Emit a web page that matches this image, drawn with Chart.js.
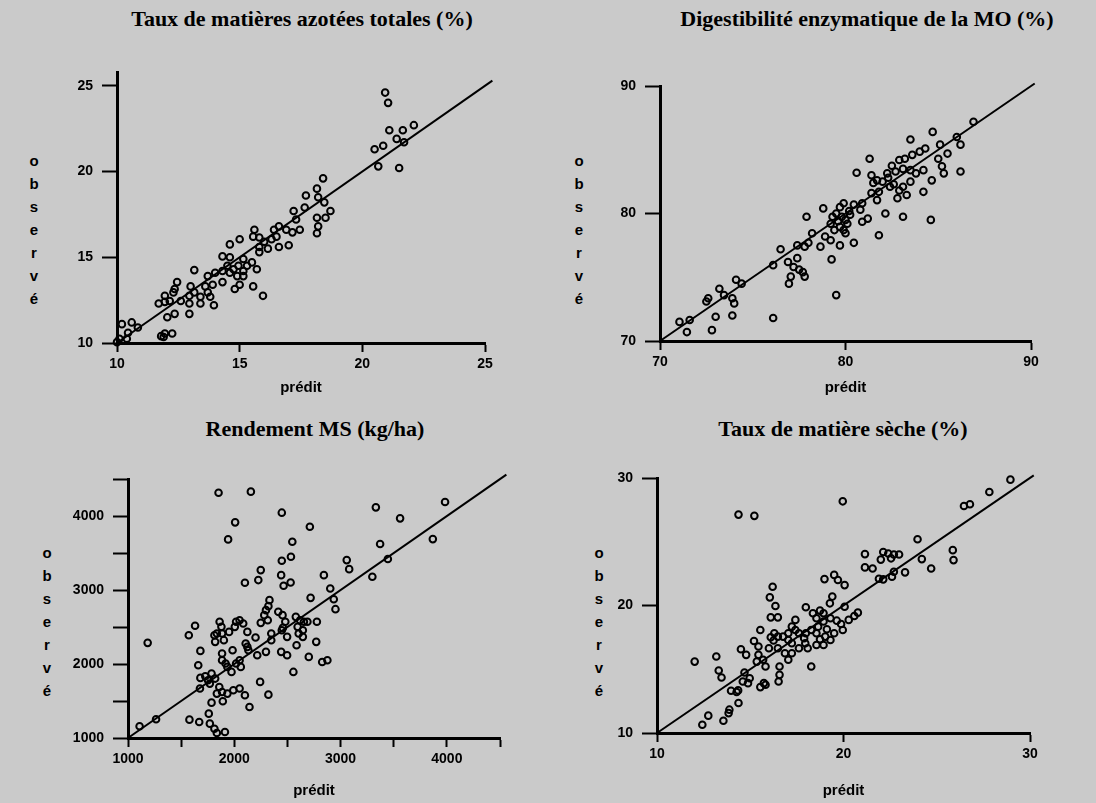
<!DOCTYPE html>
<html lang="fr">
<head>
<meta charset="utf-8">
<title>Valeurs prédites et observées</title>
<script src="https://cdn.jsdelivr.net/npm/chart.js@4.4.1/dist/chart.umd.min.js"></script>
<style>
  html, body { margin: 0; padding: 0; }
  body { width: 1096px; height: 803px; background: #cacaca; position: relative; overflow: hidden; }
  canvas { position: absolute; }
  .titre { position: absolute; transform: translateX(-50%); white-space: nowrap; line-height: 1;
           font: bold 22px "Liberation Serif", "Times New Roman", serif; color: #000; }
  .obs { position: absolute; transform: translateX(-50%); writing-mode: vertical-lr; text-orientation: upright;
         line-height: 1; letter-spacing: 6px; font: bold 15px "Liberation Sans", Arial, sans-serif; color: #000; }
</style>
</head>
<body>
<div class="titre" style="left:302px; top:6px">Taux de matières azotées totales (%)</div>
<div class="titre" style="left:867px; top:6px">Digestibilité enzymatique de la MO (%)</div>
<div class="titre" style="left:315px; top:416px">Rendement MS (kg/ha)</div>
<div class="titre" style="left:843px; top:416px">Taux de matière sèche (%)</div>
<div class="obs" style="left:34px; top:152px">observé</div>
<div class="obs" style="left:579px; top:152px">observé</div>
<div class="obs" style="left:47px; top:544px">observé</div>
<div class="obs" style="left:599px; top:544px">observé</div>
<canvas id="c1" width="548" height="400" style="left:0; top:0"></canvas>
<canvas id="c2" width="548" height="400" style="left:548px; top:0"></canvas>
<canvas id="c3" width="548" height="403" style="left:0; top:400px"></canvas>
<canvas id="c4" width="548" height="403" style="left:548px; top:400px"></canvas>
<script>
// matières azotées totales (%)
const matPred = [20.93,21.05,21.1,21.65,22.1,21.4,21.7,20.5,20.85,20.65,21.5,18.4,18.15,17.7,18.2,18.45,18.7,18.5,18.15,18.2,
  18.15,17.65,17.2,17.3,17.45,17.15,16.9,16.6,16.4,16.5,16.3,17.0,16.6,16.15,15.8,15.8,15.6,15.55,15.8,16.0,
  15.0,14.6,14.6,15.15,15.3,15.5,15.7,15.15,14.95,14.75,14.5,14.3,14.6,14.9,15.15,15.0,14.8,15.55,15.95,14.0,
  13.7,14.3,13.9,13.15,13.6,13.7,13.95,13.8,13.4,13.15,13.0,12.95,12.95,13.4,12.95,12.45,12.35,12.3,11.95,11.7,
  11.95,12.15,12.05,12.35,11.8,11.95,12.25,11.9,10.2,10.6,10.85,10.45,10.1,10.4,10.0,12.6,14.3];
const matObs = [24.6,24.0,22.4,22.4,22.7,21.9,21.7,21.3,21.5,20.3,20.2,19.6,19.0,18.6,18.5,18.2,17.7,17.3,17.3,16.8,
  16.4,17.9,17.7,17.2,16.6,16.45,16.6,16.8,16.6,16.2,16.05,15.7,15.6,15.5,15.6,15.3,16.6,16.2,16.15,15.9,
  16.05,15.75,15.0,14.9,14.5,14.7,14.3,14.2,14.5,14.3,14.5,14.2,14.1,13.9,13.9,13.4,13.15,13.3,12.75,14.1,
  13.9,13.55,13.4,14.25,13.3,12.95,12.2,12.7,12.7,12.95,13.3,12.75,12.3,12.3,11.7,13.55,13.15,12.95,12.75,12.3,
  12.4,12.45,11.5,11.7,10.4,10.55,10.55,10.35,11.1,11.2,10.9,10.6,10.25,10.25,10.05,12.45,15.05];

// digestibilité enzymatique de la MO (%)
const digPred = [86.9,84.7,83.5,86.0,86.2,85.5,85.1,84.3,84.0,83.6,85.0,85.2,85.3,86.2,84.65,84.2,84.6,83.2,82.9,82.5,
  82.7,83.1,83.5,84.2,83.8,83.5,83.1,83.3,82.8,82.9,83.1,82.15,81.8,81.3,80.6,81.4,81.7,82.0,81.5,82.25,
  82.4,81.8,81.4,81.7,80.9,80.45,80.8,81.2,80.9,80.25,80.1,80.0,80.45,79.7,79.5,79.3,79.8,79.2,79.7,79.4,
  79.9,78.8,77.9,78.9,79.2,79.7,78.65,78.2,79.25,79.5,77.4,77.8,78.0,76.5,76.9,77.4,77.2,77.5,77.05,77.8,
  76.95,77.7,76.1,76.1,74.4,74.1,73.2,73.45,73.9,74.0,73.9,72.6,72.5,73.0,72.8,71.6,71.05,71.45,
  80.0,79.6,80.2,79.9,82.3,82.6];
const digObs = [87.2,86.4,85.8,86.0,85.4,84.7,85.4,85.1,84.85,84.6,84.3,83.7,83.15,83.3,82.6,81.7,79.5,84.3,84.2,83.75,
  83.3,83.5,83.4,83.4,83.15,82.5,82.1,81.45,81.2,81.8,79.75,80.0,78.3,84.3,83.2,83.0,82.6,82.5,82.4,83.15,
  82.1,81.7,81.6,81.05,80.8,80.7,80.3,79.6,79.35,79.9,79.2,78.45,77.7,80.5,80.0,79.75,79.75,79.2,78.95,78.7,
  78.7,80.4,79.75,78.2,77.9,77.5,77.4,78.45,76.4,73.6,77.5,77.4,77.7,77.2,76.2,76.5,75.8,75.6,75.05,75.05,
  74.5,75.4,75.95,71.8,74.5,74.8,74.1,73.6,73.35,72.95,72.0,73.35,73.1,71.9,70.85,71.65,71.5,70.7,
  79.5,79.4,80.2,80.8,82.8,82.3];

// rendement MS (kg/ha)
const rdtPred = [1852,2156,2447,2008,2711,1942,2546,3983,3332,3560,3868,3372,3445,3299,3058,3081,2533,2447,2441,2464,
  2530,2249,2226,2100,2843,2903,2718,2936,2952,2777,2331,2321,2298,2282,2315,2249,2414,2454,2480,2457,
  2497,2447,2348,2348,2579,2619,2596,2645,2606,2655,2688,2645,2586,2771,2701,2827,2876,2556,2441,2497,
  2298,2216,2243,2321,2200,2123,2107,2123,2084,2050,2017,2005,2133,2061,2050,2017,1984,1974,1935,1885,
  1885,1918,1862,1879,1836,1813,1820,1885,1951,1902,1786,1820,1753,1770,1677,1681,1727,1859,1885,1836,
  1935,1991,2050,2100,2143,1892,1786,1760,1770,1813,1836,1912,1670,1578,1661,1681,1572,1631,1185,1264,1109];
const rdtObs = [4315,4329,4045,3914,3855,3684,3652,4189,4117,3968,3688,3621,3418,3179,3404,3282,3449,3395,3201,3057,
  3102,3269,3134,3097,3201,3021,2894,2876,2741,2570,2863,2782,2728,2660,2592,2556,2705,2660,2570,2488,
  2367,2457,2412,2322,2637,2592,2502,2457,2412,2570,2570,2367,2254,2299,2096,2028,2051,1893,2164,2119,
  2164,2119,1758,1586,2358,2434,2277,2231,2547,2592,2570,2502,2186,1961,2051,2006,2186,1893,1961,2141,
  2051,2006,2570,2502,2412,2389,2299,2412,2434,2322,1871,1803,1780,1735,1668,1812,1834,1690,1622,1600,
  1600,1645,1668,1577,1419,1496,1478,1329,1194,1126,1068,1081,1217,1248,1983,2177,2389,2516,2286,1253,1158];

// taux de matière sèche (%)
const msPred = [28.95,27.82,26.46,26.78,19.96,14.37,15.22,23.97,25.86,25.9,24.2,24.7,23.3,21.15,22.13,22.4,22.7,22.98,22.0,22.55,
  21.15,21.56,21.9,22.13,22.6,22.7,18.98,19.5,19.7,20.06,19.4,19.27,20.06,20.77,20.58,20.28,19.87,19.96,19.64,19.3,
  18.93,18.74,18.36,17.98,18.93,18.64,19.11,18.55,19.02,18.74,18.55,18.93,18.27,17.98,17.61,17.89,17.42,17.42,17.23,17.04,
  16.76,17.04,17.23,18.08,18.27,17.61,16.29,16.48,16.25,16.1,16.0,16.48,16.86,17.04,16.57,16.57,16.52,15.69,15.44,15.35,
  15.82,15.44,15.54,16.2,16.05,16.35,16.1,16.48,15.2,14.78,14.5,14.69,14.97,14.88,15.54,15.73,15.82,14.6,14.35,13.97,
  14.27,14.37,13.88,13.84,13.56,12.75,12.43,12.02,13.18,13.31,13.46,17.23,17.95,19.3,18.55,19.5];
const msObs = [29.87,28.9,27.8,27.94,28.17,27.13,27.03,25.2,24.34,23.56,23.64,22.9,22.6,24.03,24.2,24.08,24.0,24.0,23.6,23.7,
  22.99,22.9,22.1,22.05,22.25,22.65,22.07,22.4,22.0,21.6,20.7,20.17,19.9,19.44,19.18,18.87,18.55,18.08,18.81,19.0,
  19.39,19.6,19.39,19.86,18.74,18.34,18.14,17.82,17.56,17.35,16.9,16.9,18.08,17.82,17.82,17.43,18.08,18.87,18.34,17.82,
  17.56,17.3,17.04,16.65,15.22,16.65,17.82,17.56,17.25,17.51,16.65,16.65,16.26,15.74,15.22,14.56,14.04,15.74,16.13,15.6,
  15.22,16.78,18.08,21.47,20.64,19.96,19.07,19.07,17.22,16.13,16.57,14.75,14.3,13.91,13.6,13.91,13.78,14.04,13.34,13.31,
  13.21,12.35,11.83,11.56,10.96,11.36,10.65,15.6,16.0,14.9,14.35,16.26,17.04,17.3,19.0,17.82];

// axes: ticks, tick labels, and the two ends of the y = x line
const matTicks = [10, 15, 20, 25];
const digTicks = [70, 80, 90];
const rdtTicks = [1000, 1500, 2000, 2500, 3000, 3500, 4000, 4500];
const rdtLabels = ["1000", "", "2000", "", "3000", "", "4000", ""];
const msTicks = [10, 20, 30];
const matDiag = [10, 25.3];
const digDiag = [70, 90.2];
const rdtDiag = [1000, 4560];
const msDiag = [10, 30.2];

const tickFont = { family: "Liberation Sans", size: 14, weight: "bold" };

function drawPanel(id, pred, obs, diag, xAxis, yAxis, area) {
  const canvas = document.getElementById(id);
  return new Chart(canvas.getContext("2d"), {
    type: "scatter",
    data: {
      datasets: [
        {
          data: pred.map((v, i) => ({ x: v, y: obs[i] })),
          pointRadius: 3.3,
          pointBorderWidth: 2,
          pointBorderColor: "#000",
          pointBackgroundColor: "rgba(0,0,0,0)",
          clip: false
        },
        {
          type: "line",
          data: diag.map((v) => ({ x: v, y: v })),
          borderColor: "#000",
          borderWidth: 2,
          pointRadius: 0,
          clip: false
        }
      ]
    },
    options: {
      responsive: false,
      animation: false,
      events: [],
      layout: { padding: { top: area.t, right: canvas.width - area.r, left: 0, bottom: 0 } },
      plugins: { legend: { display: false }, tooltip: { enabled: false } },
      scales: {
        x: {
          type: "linear",
          min: xAxis.min,
          max: xAxis.max,
          afterBuildTicks: (s) => { s.ticks = xAxis.ticks.map((v) => ({ value: v })); },
          afterFit: (s) => { s.height = canvas.height - area.b; },
          ticks: {
            color: "#000", font: tickFont, padding: 4, maxRotation: 0, autoSkip: false,
            callback: (v, i) => (xAxis.labels ? xAxis.labels[i] : String(v))
          },
          grid: { drawOnChartArea: false, tickLength: 9, tickWidth: 2, tickColor: "#000" },
          border: { color: "#000", width: 3 },
          title: {
            display: true, text: "prédit", color: "#000",
            font: { family: "Liberation Sans", size: 15, weight: "bold" },
            padding: { top: 0, bottom: 3 }
          }
        },
        y: {
          type: "linear",
          min: yAxis.min,
          max: yAxis.max,
          afterBuildTicks: (s) => { s.ticks = yAxis.ticks.map((v) => ({ value: v })); },
          afterFit: (s) => { s.width = area.l; },
          ticks: {
            color: "#000", font: tickFont, padding: 9,
            callback: (v, i) => (yAxis.labels ? yAxis.labels[i] : String(v))
          },
          grid: { drawOnChartArea: false, tickLength: 15, tickWidth: 2, tickColor: "#000" },
          border: { color: "#000", width: 3 }
        }
      }
    }
  });
}

drawPanel("c1", matPred, matObs, matDiag,
  { min: 10, max: 25, ticks: matTicks },
  { min: 10, max: 25.8, ticks: matTicks },
  { l: 117, r: 485, t: 72, b: 343 });

drawPanel("c2", digPred, digObs, digDiag,
  { min: 70, max: 90, ticks: digTicks },
  { min: 70, max: 90, ticks: digTicks },
  { l: 112, r: 483, t: 86, b: 341 });

drawPanel("c3", rdtPred, rdtObs, rdtDiag,
  { min: 1000, max: 4500, ticks: rdtTicks, labels: rdtLabels },
  { min: 1000, max: 4500, ticks: rdtTicks, labels: rdtLabels },
  { l: 128, r: 500, t: 79, b: 338 });

drawPanel("c4", msPred, msObs, msDiag,
  { min: 10, max: 30, ticks: msTicks },
  { min: 10, max: 30, ticks: msTicks },
  { l: 109, r: 482, t: 78, b: 333 });
</script>
</body>
</html>
